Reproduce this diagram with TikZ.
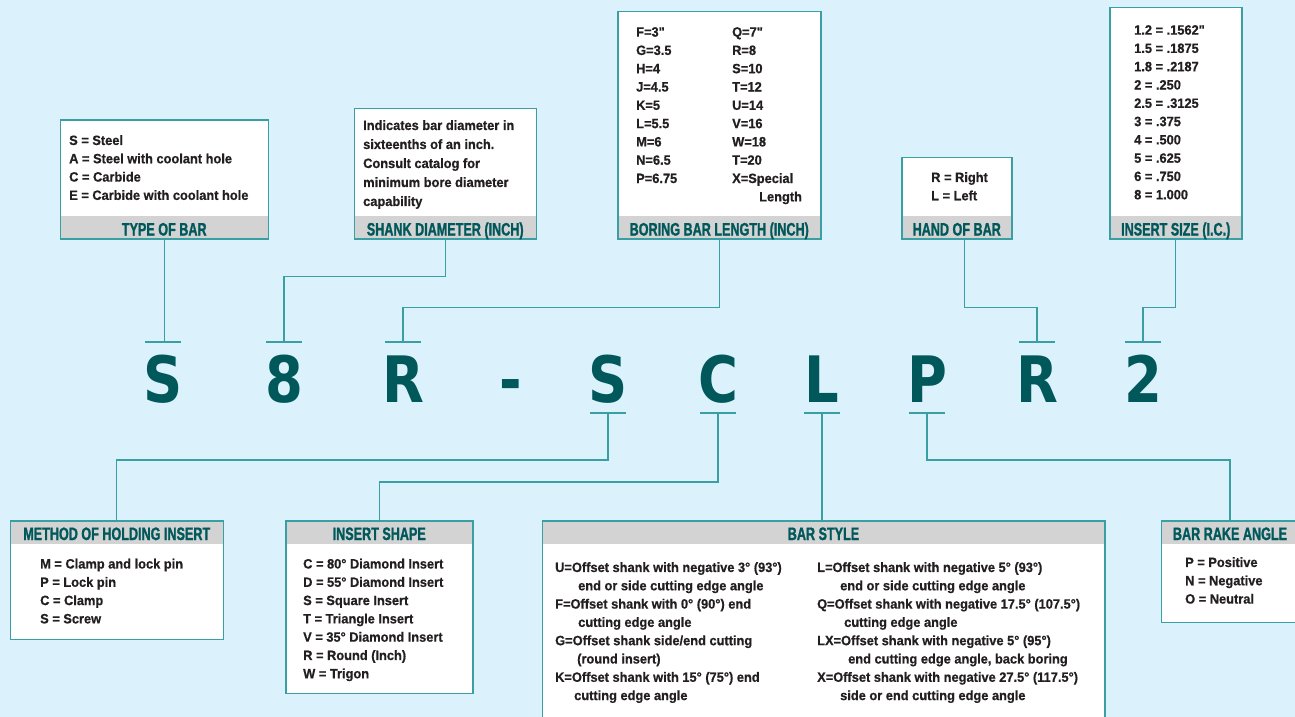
\documentclass[tikz,border=0pt]{standalone}
\usepackage{fontspec}
\usepackage{tikz}
\usetikzlibrary{positioning,calc}
\newfontfamily\bodyfam[FakeStretch=0.95,FakeBold=0.6]{Liberation Sans}
\newfontfamily\headfam[FakeStretch=0.70,FakeBold=1.2]{Liberation Sans}
\newfontfamily\codefam[FakeStretch=0.85]{DejaVu Sans}
\definecolor{bgblue}{HTML}{DBF1FB}
\definecolor{tealline}{HTML}{3A9FA2}
\definecolor{bargray}{HTML}{D3D3D3}
\definecolor{headteal}{HTML}{00585B}
\definecolor{bodyink}{HTML}{231F20}
\definecolor{codeteal}{HTML}{00585A}

\begin{document}
\begin{tikzpicture}[
  x=1pt,y=-1pt,
  topbox/.style={draw=tealline, line width=1.5pt, fill=white, anchor=north west, inner sep=0pt,
    path picture={\fill[bargray] ([yshift=23pt]path picture bounding box.south west) rectangle (path picture bounding box.south east);}},
  botbox/.style={draw=tealline, line width=1.5pt, fill=white, anchor=north west, inner sep=0pt,
    path picture={\fill[bargray] (path picture bounding box.north west) rectangle ([yshift=-23pt]path picture bounding box.north east);}},
  head/.style={anchor=base, inner sep=0pt, text=headteal, font=\headfam\bfseries\fontsize{18}{18}\selectfont},
  body/.style={anchor=north west, align=left, inner sep=0pt, text=bodyink, font=\bodyfam\bfseries\fontsize{13.5}{18.3}\selectfont},
  code/.style={anchor=base, inner sep=0pt, text=codeteal, font=\codefam\bfseries\fontsize{64}{64}\selectfont},
  link/.style={draw=tealline, line width=1.3pt},
  tick/.style={draw=tealline, line width=1.5pt}
]
\useasboundingbox (0,0) rectangle (1295,717);
\fill[bgblue] (0,0) rectangle (1295,717);
\clip (0,0) rectangle (1295,717);

\node[topbox, minimum width=208pt, minimum height=119pt] (typebox) at (59.5,119) {};
\node[head] (typehead) at ([yshift=4pt]typebox.south) {TYPE OF BAR};
\node[body] (typetext) at (69,135) {S = Steel\\A = Steel with coolant hole\\C = Carbide\\E = Carbide with coolant hole};

\node[topbox, minimum width=182pt, minimum height=130.5pt] (shankbox) at (353.5,107.5) {};
\node[head] (shankhead) at ([yshift=4pt]shankbox.south) {SHANK DIAMETER (INCH)};
\node[body, font=\bodyfam\bfseries\fontsize{13.5}{19}\selectfont] (shanktext) at (363,120) {Indicates bar diameter in\\sixteenths of an inch.\\Consult catalog for\\minimum bore diameter\\capability};

\node[topbox, minimum width=203pt, minimum height=227pt] (borebox) at (617,11) {};
\node[head] (borehead) at ([yshift=4pt]borebox.south) {BORING BAR LENGTH (INCH)};
\node[body] (boreleft) at (636,27) {F=3"\\G=3.5\\H=4\\J=4.5\\K=5\\L=5.5\\M=6\\N=6.5\\P=6.75};
\node[body] (boreright) at (732,27) {Q=7"\\R=8\\S=10\\T=12\\U=14\\V=16\\W=18\\T=20\\X=Special\\\hspace*{27pt}Length};

\node[topbox, minimum width=110pt, minimum height=81.5pt] (handbox) at (901,156.5) {};
\node[head] (handhead) at ([yshift=4pt]handbox.south) {HAND OF BAR};
\node[body] (handtext) at (931,172) {R = Right\\L = Left};

\node[topbox, minimum width=132pt, minimum height=231pt] (sizebox) at (1109,7) {};
\node[head] (sizehead) at ([yshift=4pt]sizebox.south) {INSERT SIZE (I.C.)};
\node[body] (sizetext) at (1134,25) {1.2 = .1562"\\1.5 = .1875\\1.8 = .2187\\2 = .250\\2.5 = .3125\\3 = .375\\4 = .500\\5 = .625\\6 = .750\\8 = 1.000};

\foreach \ch/\xx/\nm in {S/163/cS, 8/284/c8, R/403/cR, -/511/cD, S/608/cSS, C/718/cC, L/822/cL, P/927/cP, R/1037/cRR, 2/1143/c2}{
  \node[code] (\nm) at (\xx,402) {\ch};
  \coordinate (\nm-top) at (\xx,342);
  \coordinate (\nm-bot) at (\xx,413);
}
\foreach \nm in {cS,c8,cR,cRR,c2}
  \draw[tick] ([xshift=-18pt]\nm-top) -- ([xshift=18pt]\nm-top);
\foreach \nm in {cSS,cC,cL,cP}
  \draw[tick] ([xshift=-18pt]\nm-bot) -- ([xshift=18pt]\nm-bot);

\node[botbox, minimum width=213pt, minimum height=118.5pt] (holdbox) at (9.5,520) {};
\node[head] (holdhead) at ([yshift=-20pt]holdbox.north) {METHOD OF HOLDING INSERT};
\node[body] (holdtext) at (40,558.5) {M = Clamp and lock pin\\P = Lock pin\\C = Clamp\\S = Screw};

\node[botbox, minimum width=187pt, minimum height=172.5pt] (shapebox) at (285,520) {};
\node[head] (shapehead) at ([yshift=-20pt]shapebox.north) {INSERT SHAPE};
\node[body] (shapetext) at (303,558.5) {C = 80° Diamond Insert\\D = 55° Diamond Insert\\S = Square Insert\\T = Triangle Insert\\V = 35° Diamond Insert\\R = Round (Inch)\\W = Trigon};

\node[botbox, minimum width=562.5pt, minimum height=220pt] (stylebox) at (541.5,520) {};
\node[head] (stylehead) at ([yshift=-20pt]stylebox.north) {BAR STYLE};
\node[body] (styleleft) at (555,562) {U=Offset shank with negative 3° (93°)\\\hspace*{23pt}end or side cutting edge angle\\F=Offset shank with 0° (90°) end\\\hspace*{23pt}cutting edge angle\\G=Offset shank side/end cutting\\\hspace*{22pt}(round insert)\\K=Offset shank with 15° (75°) end\\\hspace*{19pt}cutting edge angle};
\node[body] (styleright) at (817,562) {L=Offset shank with negative 5° (93°)\\\hspace*{23pt}end or side cutting edge angle\\Q=Offset shank with negative 17.5° (107.5°)\\\hspace*{27pt}cutting edge angle\\LX=Offset shank with negative 5° (95°)\\\hspace*{31pt}end cutting edge angle, back boring\\X=Offset shank with negative 27.5° (117.5°)\\\hspace*{23pt}side or end cutting edge angle};

\node[botbox, minimum width=137.5pt, minimum height=101.5pt] (rakebox) at (1160.5,520) {};
\node[head] (rakehead) at ([yshift=-20pt]rakebox.north) {BAR RAKE ANGLE};
\node[body] (raketext) at (1185,557) {P = Positive\\N = Negative\\O = Neutral};

\draw[link] (typebox.south) -- (typebox.south |- cS-top);
\draw[link] (shankbox.south) -- ++(0,37) -| (c8-top);
\draw[link] (borebox.south) -- ++(0,68) -| (cR-top);
\draw[link] ([xshift=8pt]handbox.south) -- ++(0,68) -| (cRR-top);
\draw[link] (sizebox.south) -- ++(0,68) -| (c2-top);
\draw[link] (cSS-bot) -- ++(0,47) -| (holdbox.north);
\draw[link] (cC-bot) -- ++(0,69) -| (shapebox.north);
\draw[link] (cL-bot) -- (cL-bot |- stylebox.north);
\draw[link] (cP-bot) -- ++(0,47) -| (rakebox.north);
\end{tikzpicture}
\end{document}
